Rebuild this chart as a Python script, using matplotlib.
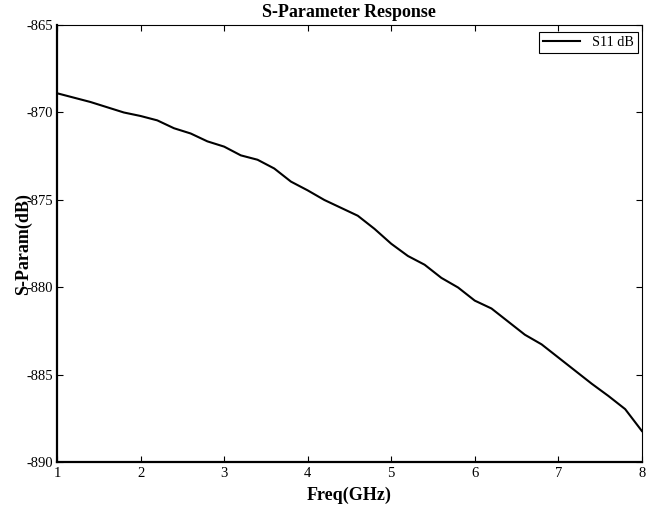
import matplotlib
matplotlib.use("Agg")
import matplotlib.pyplot as plt

# S11 response (0.2 GHz steps)
freq_ghz = [1.0, 1.2, 1.4, 1.6, 1.8, 2.0, 2.2, 2.4, 2.6, 2.8, 3.0, 3.2, 3.4, 3.6,
            3.8, 4.0, 4.2, 4.4, 4.6, 4.8, 5.0, 5.2, 5.4, 5.6, 5.8, 6.0, 6.2, 6.4,
            6.6, 6.8, 7.0, 7.2, 7.4, 7.6, 7.8, 8.0]
s11_db = [-868.9, -869.15, -869.4, -869.7, -870.0, -870.2, -870.45, -870.9,
          -871.2, -871.65, -871.95, -872.45, -872.7, -873.2, -873.95, -874.45,
          -875.0, -875.45, -875.9, -876.65, -877.5, -878.2, -878.7, -879.45,
          -880.0, -880.75, -881.2, -881.95, -882.7, -883.25, -884.0, -884.75,
          -885.5, -886.2, -886.95, -888.2]
x_ticks = [1, 2, 3, 4, 5, 6, 7, 8]
y_ticks = [-890, -885, -880, -875, -870, -865]

plt.rcParams['font.family'] = ['Liberation Serif', 'DejaVu Serif']
plt.rcParams['axes.unicode_minus'] = False

fig = plt.figure(figsize=(6.59, 5.12), dpi=100)
ax = fig.add_axes([0.0865, 0.0967, 0.8875, 0.8545])

ax.plot(freq_ghz, s11_db, color='black', linewidth=1.5, label='S11 dB')

ax.set_xlim(1, 8)
ax.set_ylim(-890, -865)
ax.set_xticks(x_ticks)
ax.set_yticks(y_ticks)
ax.tick_params(axis='both', which='both', direction='in', top=True, right=True,
               length=4, width=0.8, labelsize=10.5, pad=3)

for side in ['left', 'bottom']:
    ax.spines[side].set_linewidth(1.6)
for side in ['top', 'right']:
    ax.spines[side].set_linewidth(0.8)

ax.set_title('S-Parameter Response', fontsize=13, fontweight='bold', pad=5.5)
ax.set_xlabel('Freq(GHz)', fontsize=13, fontweight='bold', labelpad=5)
ax.set_ylabel('S-Param(dB)', fontsize=13, fontweight='bold', labelpad=-4.5)

leg = ax.legend(loc='upper right', bbox_to_anchor=(0.993, 0.984), borderaxespad=0,
                fontsize=10.2, fancybox=False, framealpha=1, edgecolor='black',
                handlelength=2.6, borderpad=0.3)
leg.get_frame().set_linewidth(0.8)

fig.savefig('out.png', dpi=100)
